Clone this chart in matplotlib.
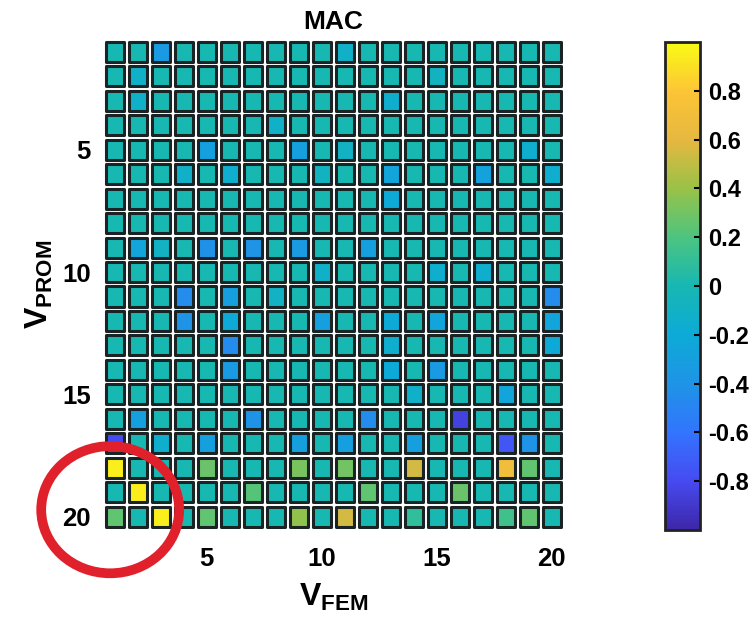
import numpy as np
import matplotlib
matplotlib.use('Agg')
import matplotlib.pyplot as plt
from matplotlib.colors import LinearSegmentedColormap, Normalize
from matplotlib.patches import Rectangle, Ellipse
from matplotlib.collections import PatchCollection

plt.rcParams['font.family'] = ['Liberation Sans', 'DejaVu Sans']
plt.rcParams['font.weight'] = 'bold'
plt.rcParams['axes.unicode_minus'] = False
plt.rcParams['mathtext.fontset'] = 'custom'
plt.rcParams['mathtext.rm'] = 'Liberation Sans:bold'
plt.rcParams['mathtext.bf'] = 'Liberation Sans:bold'

#--------- data ---------
# MAC matrix, rows = V_PROM modes (1 at top), cols = V_FEM modes
mac = [
    [0, 0, -0.35, 0, 0, 0, 0, 0, 0, 0, -0.12, 0, 0, 0, 0, 0, 0, 0, 0, 0],
    [0, -0.12, 0, 0, 0, 0, 0, 0, 0, 0, 0, 0, 0, 0, -0.08, 0, 0, 0, 0, 0],
    [0, -0.12, 0, 0, 0, 0, 0, 0, 0, 0, 0, 0, -0.15, 0, 0, 0, 0, 0, 0, 0],
    [0, 0, 0, 0, 0, 0, 0, -0.12, 0, 0, 0, 0, 0, 0, 0, 0, 0, 0, 0, 0],
    [0, 0, 0, 0, -0.3, 0, 0, 0, -0.3, 0, -0.1, 0, 0, 0, 0, 0, 0, 0, -0.15, 0],
    [0, 0, 0, -0.12, 0, -0.15, 0, 0, 0, -0.08, 0, 0, -0.25, 0, 0, 0, -0.28, 0, 0, -0.15],
    [0, 0, 0, 0, 0, 0, 0, 0, 0, 0, 0, 0, -0.2, 0, 0, 0, 0, 0, 0, 0],
    [0, 0, 0, 0, 0, 0, 0, 0, 0, 0, 0, 0, 0, 0, 0, 0, 0, 0, 0, 0],
    [0, -0.25, -0.1, 0, -0.42, 0, -0.4, 0, -0.35, 0, 0, -0.3, 0, 0, 0, 0, 0, 0, 0, 0],
    [0, 0, 0, 0, 0, 0, 0, 0, 0, -0.12, 0, 0, 0, 0, -0.15, 0, -0.15, 0, 0, 0],
    [0, 0, 0, -0.45, 0, -0.3, 0, -0.1, 0, 0, 0, 0, 0, 0, 0, 0, 0, 0, 0, -0.45],
    [0, 0, 0, -0.4, 0, -0.2, 0, 0, 0, -0.3, 0, 0, -0.2, 0, -0.25, 0, 0, 0, 0, -0.25],
    [0, 0, 0, 0, 0, -0.45, 0, 0, 0, 0, 0, 0, -0.15, 0, 0, 0, 0, 0, 0, -0.2],
    [0, 0, 0, 0, 0, -0.35, 0, 0, 0, 0, 0, 0, -0.2, 0, -0.35, 0, 0, 0, 0, 0],
    [0, 0, 0, 0, 0, 0, 0, 0, 0, 0, 0, 0, 0, -0.12, 0, 0, 0, -0.25, 0, 0],
    [0, -0.3, 0, 0, 0, 0, -0.4, 0, 0, 0, 0, -0.45, 0, 0, 0, -0.85, 0, 0, 0, 0],
    [-0.8, 0, -0.15, 0, -0.3, 0, 0, 0, -0.3, 0, -0.3, 0, 0, -0.3, 0, 0, 0, -0.75, -0.4, 0],
    [0.95, 0, 0, 0, 0.28, 0, 0, 0, 0.32, 0, 0.3, 0, 0, 0.55, 0, 0, 0, 0.7, 0.25, 0],
    [0, 0.95, 0, 0, 0, 0, 0.22, 0, 0, 0, 0, 0.25, 0, 0, 0, 0.28, 0, 0, 0, 0],
    [0.25, 0, 0.95, 0, 0.25, 0, 0, 0, 0.38, 0, 0.55, 0, 0, 0.1, 0, 0, 0, 0.15, 0.25, 0],
]
fem_modes = np.arange(1, 21)
prom_modes = np.arange(1, 21)
ticks = [5, 10, 15, 20]
cbar_ticks = [-0.8, -0.6, -0.4, -0.2, 0, 0.2, 0.4, 0.6, 0.8]
cbar_labels = ['-0.8', '-0.6', '-0.4', '-0.2', '0', '0.2', '0.4', '0.6', '0.8']

#--------- parula-like colormap ---------
parula_pts = [
    (0.242, 0.150, 0.660),
    (0.277, 0.294, 0.946),
    (0.197, 0.457, 0.995),
    (0.119, 0.581, 0.906),
    (0.050, 0.668, 0.842),
    (0.090, 0.720, 0.700),
    (0.300, 0.770, 0.500),
    (0.600, 0.760, 0.280),
    (0.900, 0.720, 0.250),
    (0.990, 0.770, 0.210),
    (0.977, 0.984, 0.081),
]
parula = LinearSegmentedColormap.from_list('parula', parula_pts)
norm = Normalize(vmin=-1.0, vmax=1.0)

#--------- plotting ---------
fig = plt.figure(figsize=(7.54, 6.31), dpi=100)
ax = fig.add_axes([0.137, 0.162, 0.610, 0.775])
cax = fig.add_axes([0.882, 0.160, 0.0464, 0.7734])

w, h = 0.80, 0.82
rects = []
vals = []
for i, p in enumerate(prom_modes):
    for j, f in enumerate(fem_modes):
        rects.append(Rectangle((f - w / 2, p - h / 2), w, h))
        vals.append(mac[i][j])
coll = PatchCollection(rects, cmap=parula, norm=norm, edgecolor='#1b2424',
                       linewidth=2.2, joinstyle='round')
coll.set_array(np.array(vals))
ax.add_collection(coll)

ax.set_xlim(0.5, 20.5)
ax.set_ylim(20.5, 0.5)
ax.set_xticks(ticks)
ax.set_yticks(ticks)
ax.tick_params(length=0, labelsize=18.5)
ax.tick_params(axis='x', pad=13)
ax.tick_params(axis='y', pad=9)
for s in ax.spines.values():
    s.set_visible(False)

ax.set_title('MAC', fontsize=19, fontweight='bold', pad=8)
ax.set_xlabel(r'$\mathrm{V}_{\mathrm{FEM}}$', fontsize=23, labelpad=8)
ax.set_ylabel(r'$\mathrm{V}_{\mathrm{PROM}}$', fontsize=23, labelpad=5)

# highlight circle
circ = Ellipse((0.80, 19.72), 6.0, 5.2, fill=False, edgecolor='#e0202a',
               linewidth=7, clip_on=False, zorder=5)
ax.add_patch(circ)

cb = fig.colorbar(coll, cax=cax, ticks=cbar_ticks)
cb.ax.set_yticklabels(cbar_labels)
cb.outline.set_linewidth(2)
cb.outline.set_edgecolor('#222222')
cax.tick_params(direction='in', length=4, width=1.5, labelsize=17, pad=6)

fig.savefig('out.png', dpi=100)
